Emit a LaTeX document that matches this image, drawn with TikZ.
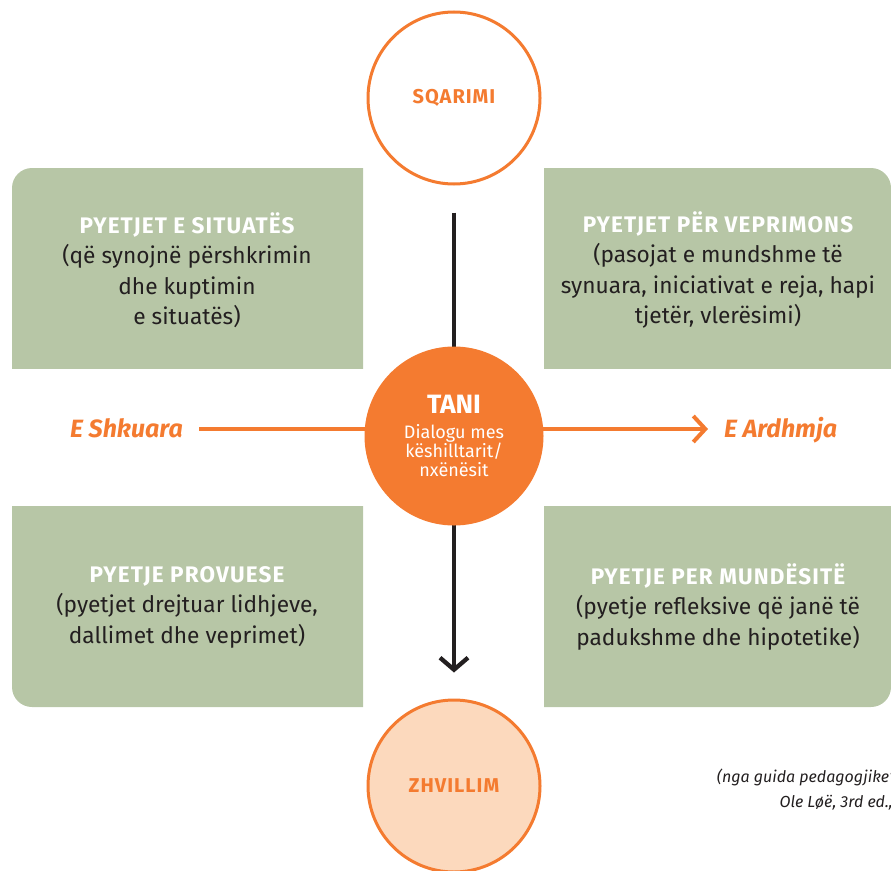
\documentclass[tikz,border=0pt]{standalone}
\usepackage{fontspec}
\setmainfont{Fira Sans}
\newfontfamily\spacedfont{Fira Sans}[LetterSpace=5]
\usetikzlibrary{arrows.meta, positioning, calc}

\definecolor{orng}{HTML}{F47B30}
\definecolor{sage}{HTML}{B7C6A6}
\definecolor{peach}{HTML}{FCD9BD}
\definecolor{ink}{HTML}{231F20}

\newcommand{\qhead}[1]{{\spacedfont\bfseries\fontsize{22.5}{30.5}\selectfont\color{white}#1}}

\tikzset{
  qtext/.style={align=center, text=ink, inner sep=0pt, font=\fontsize{22.7}{30.5}\selectfont},
  ring/.style={circle, draw=orng, line width=3pt, minimum size=172pt, inner sep=0pt,
    text=orng, font=\spacedfont\bfseries\fontsize{20}{22}\selectfont},
  timelbl/.style={text=orng, inner sep=0pt, text height=17pt, text depth=0pt,
    font=\bfseries\itshape\fontsize{25}{27}\selectfont},
}

\begin{document}
\begin{tikzpicture}[x=1pt, y=-1pt]
      \useasboundingbox (0,0) rectangle (891,870);

      % green boxes, one rounded corner each
      \begin{scope}
        \clip (12,168) rectangle (363,368);
        \fill[sage, rounded corners=20pt] (12,168) rectangle (400,400);
      \end{scope}
      \begin{scope}
        \clip (544,168) rectangle (891,368);
        \fill[sage, rounded corners=20pt] (500,168) rectangle (891,400);
      \end{scope}
      \begin{scope}
        \clip (12,506) rectangle (363,707);
        \fill[sage, rounded corners=20pt] (12,470) rectangle (400,707);
      \end{scope}
      \begin{scope}
        \clip (544,506) rectangle (891,707);
        \fill[sage, rounded corners=20pt] (500,470) rectangle (891,707);
      \end{scope}

      \node[qtext] (situata) at (187,270) {\qhead{PYETJET E SITUATËS}\\(që synojnë përshkrimin\\dhe kuptimin\\e situatës)};
      \node[qtext] (veprim) at (718,270) {\qhead{PYETJET PËR VEPRIMONS}\\(pasojat e mundshme të\\synuara, iniciativat e reja, hapi\\tjetër, vlerësimi)};
      \node[qtext] (provuese) at (187,607) {\qhead{PYETJE PROVUESE}\\(pyetjet drejtuar lidhjeve,\\dallimet dhe veprimet)};
      \node[qtext] (mundesi) at (718,607) {\qhead{PYETJE PER MUNDËSITË}\\(pyetje refleksive që janë të\\padukshme dhe hipotetike)};

      \node[ring, fill=white] (sqarimi) at (454,98) {SQARIMI};
      \node[ring, fill=peach] (zhvillim) at (454,786) {ZHVILLIM};

      \node[timelbl, anchor=east] (shkuara) at (183,429) {E Shkuara};
      \node[timelbl, anchor=west] (ardhmja) at (724,429) {E Ardhmja};

      \draw[-{Straight Barb[length=12pt, width=28pt]}, ink, line width=4.3pt, shorten <=27pt, shorten >=26pt] (sqarimi) -- (zhvillim);
      \draw[-{Straight Barb[length=12pt, width=26pt]}, orng, line width=4pt, shorten <=16pt, shorten >=16pt] (shkuara) -- (ardhmja);

      \node[circle, fill=orng, minimum size=179pt, inner sep=0pt, text=white, align=center,
        font=\fontsize{18}{19}\selectfont] (tani) at (454,436)
        {{\bfseries\fontsize{26.5}{28}\selectfont TANI}\\[6pt]Dialogu mes\\këshilltarit/\\nxënësit};

      \node[anchor=east, align=right, inner sep=0pt, text=ink, font=\itshape\fontsize{16}{25}\selectfont] (burimi) at (893,790)
        {(nga guida pedagogjike’\\Ole Løë, 3rd ed.,};
\end{tikzpicture}
\end{document}
